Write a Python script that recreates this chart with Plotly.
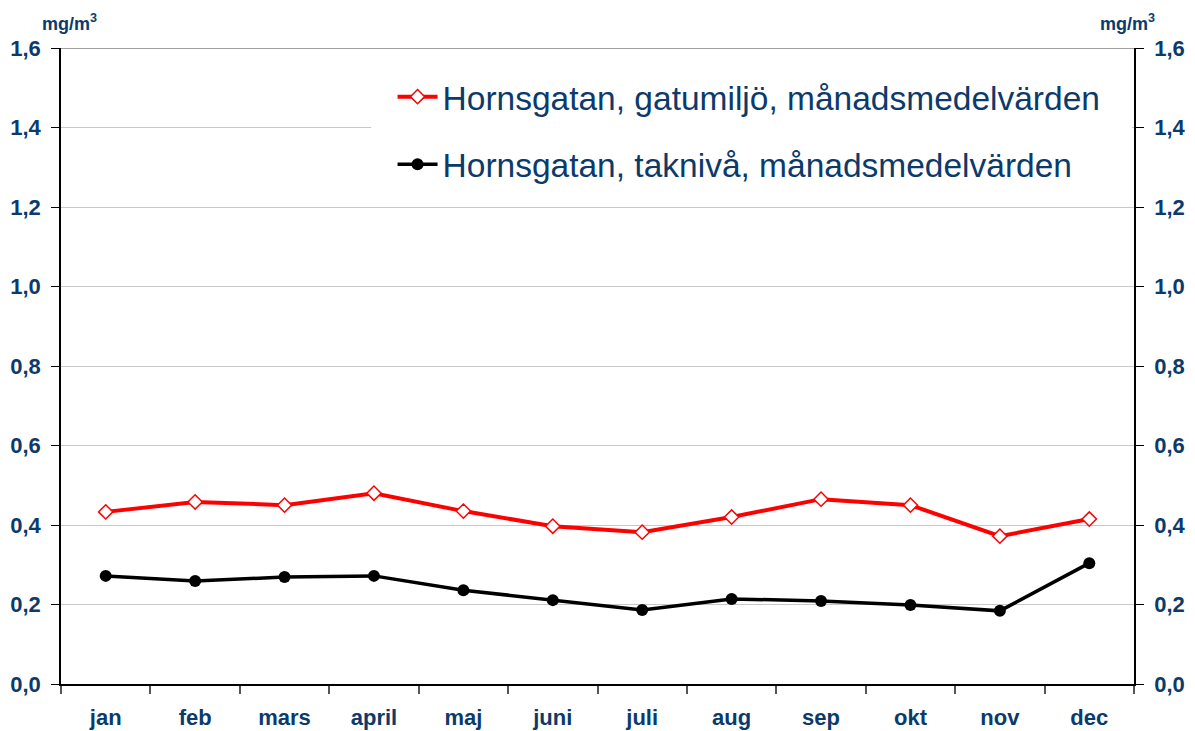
import plotly.graph_objects as go

months = ["jan", "feb", "mars", "april", "maj", "juni", "juli", "aug", "sep", "okt", "nov", "dec"]
gatumiljo = [0.433, 0.458, 0.450, 0.480, 0.435, 0.397, 0.382, 0.420, 0.465, 0.450, 0.372, 0.415]
takniva = [0.272, 0.259, 0.269, 0.272, 0.236, 0.211, 0.186, 0.214, 0.209, 0.199, 0.184, 0.304]
name_gatu = "Hornsgatan, gatumiljö, månadsmedelvärden"
name_tak = "Hornsgatan, taknivå, månadsmedelvärden"
y_ticks = [0, 0.2, 0.4, 0.6, 0.8, 1.0, 1.2, 1.4, 1.6]

NAVY = "#0B3A6B"
FONT = "Liberation Sans, Arial"
tickfont = dict(family=FONT, size=22, color=NAVY, weight="bold")

fig = go.Figure()
fig.add_trace(go.Scatter(
    x=months, y=gatumiljo, name=name_gatu, mode="lines+markers",
    line=dict(color="#FF0000", width=4),
    marker=dict(symbol="diamond", size=11, color="white", line=dict(color="#FF0000", width=1.5)),
    legendgroup="a",
))
fig.add_trace(go.Scatter(
    x=months, y=takniva, name=name_tak, mode="lines+markers",
    line=dict(color="#000000", width=3.5),
    marker=dict(symbol="circle", size=12, color="#000000"),
    legendgroup="b",
))
fig.add_trace(go.Scatter(
    x=months, y=takniva, yaxis="y2", mode="lines", line=dict(width=0),
    showlegend=False, hoverinfo="skip", opacity=0,
))

fig.update_layout(
    width=1195, height=731,
    margin=dict(l=61, r=61, t=48, b=47, autoexpand=False),
    paper_bgcolor="white", plot_bgcolor="white",
    separators=", ",
    font=dict(family=FONT, color=NAVY),
    xaxis=dict(
        type="category", tickson="boundaries", ticks="outside", ticklen=8,
        tickcolor="#555555", tickwidth=1.5, automargin=False,
        showline=True, linecolor="black", linewidth=1.5,
        showgrid=False, tickfont=tickfont, ticklabelstandoff=13,
        range=[-0.5, 11.5],
    ),
    yaxis=dict(
        range=[0, 1.6], tickvals=y_ticks, tickformat=".1f", automargin=False,
        ticks="outside", ticklen=8, tickcolor="black", tickwidth=1.2,
        showline=True, linecolor="black", linewidth=1.5,
        showgrid=True, gridcolor="#C8C8C8", gridwidth=1,
        zeroline=False, tickfont=tickfont, ticklabelstandoff=6,
    ),
    yaxis2=dict(
        range=[0, 1.6], tickvals=y_ticks, tickformat=".1f", automargin=False,
        overlaying="y", side="right",
        ticks="outside", ticklen=8, tickcolor="black", tickwidth=1.2,
        showline=True, linecolor="black", linewidth=1.5,
        showgrid=False, zeroline=False, tickfont=tickfont, ticklabelstandoff=6,
    ),
    legend=dict(
        x=0.309, y=0.968, xanchor="left", yanchor="top",
        bgcolor="rgba(0,0,0,0)", borderwidth=0,
        font=dict(family=FONT, size=33.5, color=NAVY),
        tracegroupgap=21, itemwidth=40,
    ),
    showlegend=True,
)

# white backing behind legend (hides gridline like the reference)
fig.add_shape(type="rect", xref="paper", yref="y", x0=0.289, x1=0.998, y0=1.26, y1=1.585,
              fillcolor="white", line=dict(width=0), layer="above")
# top border line (gray) at 1.6
fig.add_shape(type="line", xref="paper", yref="y", x0=0, x1=1, y0=1.6, y1=1.6,
              line=dict(color="#808080", width=1.5))

ann_font = dict(family=FONT, size=18, color=NAVY, weight="bold")
fig.add_annotation(text="mg/m<sup>3</sup>", xref="paper", yref="paper", x=-0.0196, y=1.0,
                   yshift=26, xanchor="left", yanchor="middle", showarrow=False, font=ann_font)
fig.add_annotation(text="mg/m<sup>3</sup>", xref="paper", yref="paper", x=1.0214, y=1.0,
                   yshift=26, xanchor="right", yanchor="middle", showarrow=False, font=ann_font)

fig.write_html("out.html", config={"displayModeBar": False},
               post_script="document.body.style.margin='0';")
